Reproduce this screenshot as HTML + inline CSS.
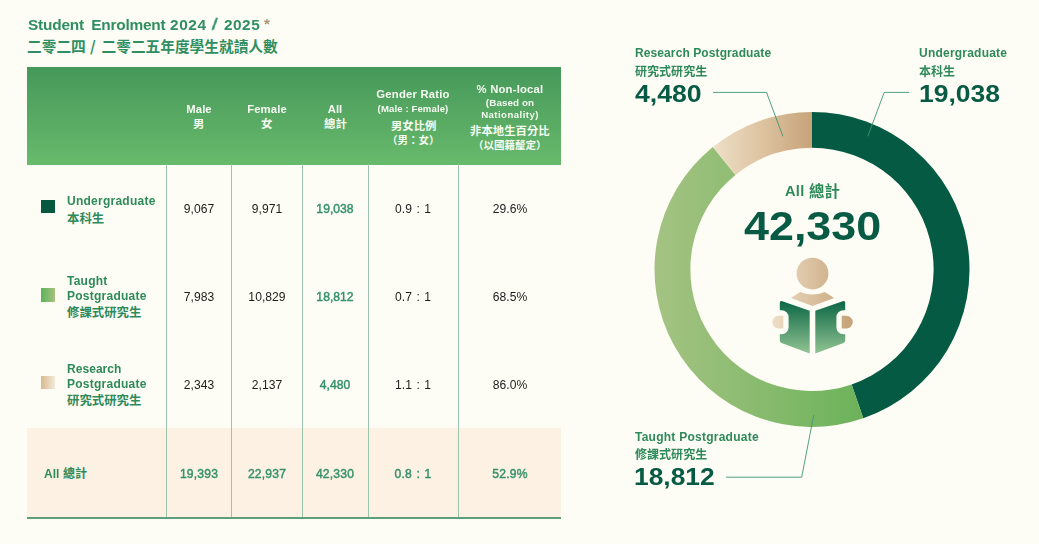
<!DOCTYPE html>
<html lang="en"><head><meta charset="utf-8"><title>Student Enrolment 2024 / 2025</title>
<style>
html,body{margin:0;padding:0}
body{width:1039px;height:544px;overflow:hidden;background:#FEFDF5;font-family:"Liberation Sans",sans-serif;position:relative}
.t{position:absolute;white-space:nowrap;will-change:transform}
.ttl{margin:0;font:inherit}
.zh{position:absolute;overflow:visible;display:block}
.zh text{font-family:"Liberation Sans","Noto Sans CJK TC",sans-serif;font-weight:700;font-size:1000px}
.chart{position:absolute;left:0;top:0}
.hdr{position:absolute;left:27px;top:67px;width:534px;height:97.5px;background:linear-gradient(180deg,#46985A 0%,#68BA6C 100%)}
.tot{position:absolute;left:27px;top:428px;width:534px;height:89px;background:#FDF1E4}
.bot{position:absolute;left:27px;top:517px;width:534px;height:2px;background:#5C9F7A}
.vl{position:absolute;top:164px;height:354px;width:1px;background:#9CC3AC}
.sq{position:absolute;left:41px;width:14px;height:13.4px}
.sq1{background:#06583F}
.sq2{background:linear-gradient(90deg,#5CB35B,#A9C180);height:13.8px}
.sq3{background:linear-gradient(90deg,#D8BA8E,#F3EADA)}
</style></head>
<body>
<h1 class="ttl">
<span class="t" style="top:16px;font-size:15.40px;line-height:17px;color:#2F8F62;font-weight:700;letter-spacing:-0.20px;left:27.60px;word-spacing:3.2px;">Student Enrolment</span>
<span class="t" style="top:16px;font-size:15.40px;line-height:17px;color:#2F8F62;font-weight:700;letter-spacing:0.62px;left:169.70px;">2024</span>
<span class="t" style="top:16px;font-size:15.40px;line-height:17px;color:#2F8F62;font-weight:700;left:210.80px;transform:skewX(-10deg);transform-origin:0 100%;-webkit-text-stroke:0.4px currentColor;">/</span>
<span class="t" style="top:16px;font-size:15.40px;line-height:17px;color:#2F8F62;font-weight:700;letter-spacing:0.50px;left:223.60px;">2025</span>
<span class="t" style="top:15px;font-size:15.00px;line-height:17px;color:#A8946F;font-weight:700;left:263.60px;">*</span>
</h1>
<svg class="zh" style="left:27.20px;top:38.76px" width="250.96" height="14.70" viewBox="0 -880 17072 1000" fill="#2F8F62"><text x="0" y="0">二零二四</text><text x="4286" y="0" style="font-family:'Noto Sans CJK TC','Liberation Sans',sans-serif">/</text><text x="5072" y="0">二零二五年度學生就讀人數</text></svg>
<section class="tbl" aria-label="Enrolment table">
<div class="hdr"></div>
<div class="tot"></div>
<i class="vl" style="left:166px"></i>
<i class="vl" style="left:231px"></i>
<i class="vl" style="left:302px"></i>
<i class="vl" style="left:368px"></i>
<i class="vl" style="left:458px"></i>
<div class="bot"></div>
<span class="t" style="top:103px;font-size:11.30px;line-height:12px;color:#F6FBF2;font-weight:700;letter-spacing:0.10px;left:198.70px;margin-left:0.05px;transform:translateX(-50%);">Male</span>
<svg class="zh" style="left:193.00px;top:118.37px" width="11.40" height="11.40" viewBox="0 -880 1000 1000" fill="#F6FBF2"><text x="0" y="0">男</text></svg>
<span class="t" style="top:103px;font-size:11.30px;line-height:12px;color:#F6FBF2;font-weight:700;letter-spacing:0.10px;left:266.90px;margin-left:0.05px;transform:translateX(-50%);">Female</span>
<svg class="zh" style="left:261.20px;top:118.37px" width="11.40" height="11.40" viewBox="0 -880 1000 1000" fill="#F6FBF2"><text x="0" y="0">女</text></svg>
<span class="t" style="top:103px;font-size:11.30px;line-height:12px;color:#F6FBF2;font-weight:700;letter-spacing:0.10px;left:335.30px;margin-left:0.05px;transform:translateX(-50%);">All</span>
<svg class="zh" style="left:323.90px;top:118.37px" width="22.80" height="11.40" viewBox="0 -880 2000 1000" fill="#F6FBF2"><text x="0" y="0">總計</text></svg>
<span class="t" style="top:88px;font-size:11.30px;line-height:12px;color:#F6FBF2;font-weight:700;letter-spacing:0.20px;left:413.20px;margin-left:0.10px;transform:translateX(-50%);">Gender Ratio</span>
<span class="t" style="top:103px;font-size:9.60px;line-height:11px;color:#F6FBF2;font-weight:700;letter-spacing:0.10px;left:413.20px;margin-left:0.05px;transform:translateX(-50%);">(Male : Female)</span>
<svg class="zh" style="left:390.50px;top:120.01px" width="45.40" height="11.35" viewBox="0 -880 4000 1000" fill="#F6FBF2"><text x="0" y="0">男女比例</text></svg>
<svg class="zh" style="left:386.95px;top:135.26px" width="52.50" height="10.50" viewBox="0 -880 5000 1000" fill="#F6FBF2"><text x="0" y="0">（男：女）</text></svg>
<span class="t" style="top:83px;font-size:11.30px;line-height:12px;color:#F6FBF2;font-weight:700;letter-spacing:0.20px;left:509.80px;margin-left:0.10px;transform:translateX(-50%);">% Non-local</span>
<span class="t" style="top:97px;font-size:9.80px;line-height:11px;color:#F6FBF2;font-weight:700;letter-spacing:0.10px;left:509.80px;margin-left:0.05px;transform:translateX(-50%);">(Based on</span>
<span class="t" style="top:109px;font-size:9.60px;line-height:11px;color:#F6FBF2;font-weight:700;letter-spacing:0.45px;left:509.80px;margin-left:0.23px;transform:translateX(-50%);">Nationality)</span>
<svg class="zh" style="left:469.90px;top:124.97px" width="79.80" height="11.40" viewBox="0 -880 7000 1000" fill="#F6FBF2"><text x="0" y="0">非本地生百分比</text></svg>
<svg class="zh" style="left:473.05px;top:139.86px" width="73.50" height="10.50" viewBox="0 -880 7000 1000" fill="#F6FBF2"><text x="0" y="0">（以國籍釐定）</text></svg>
<i class="sq sq1" style="top:200px"></i>
<span class="t" style="top:194px;font-size:12.00px;line-height:14px;color:#2E8A5A;font-weight:700;letter-spacing:0.25px;left:67.20px;">Undergraduate</span>
<svg class="zh" style="left:66.90px;top:212.09px" width="37.20" height="12.40" viewBox="0 -880 3000 1000" fill="#2E8A5A"><text x="0" y="0">本科生</text></svg>
<span class="t" style="top:202px;font-size:12.10px;line-height:14px;color:#1c1c1c;letter-spacing:0.05px;left:198.70px;margin-left:0.03px;transform:translateX(-50%);">9,067</span>
<span class="t" style="top:202px;font-size:12.10px;line-height:14px;color:#1c1c1c;letter-spacing:0.05px;left:266.90px;margin-left:0.03px;transform:translateX(-50%);">9,971</span>
<span class="t" style="top:202px;font-size:12.10px;line-height:14px;color:#35926A;letter-spacing:0.05px;left:335.30px;margin-left:0.03px;transform:translateX(-50%);-webkit-text-stroke:0.45px currentColor;">19,038</span>
<span class="t" style="top:202px;font-size:12.10px;line-height:14px;color:#1c1c1c;letter-spacing:0.05px;left:413.20px;margin-left:0.03px;transform:translateX(-50%);word-spacing:1px;">0.9 : 1</span>
<span class="t" style="top:202px;font-size:12.10px;line-height:14px;color:#1c1c1c;letter-spacing:0.05px;left:509.80px;margin-left:0.03px;transform:translateX(-50%);">29.6%</span>
<i class="sq sq2" style="top:288px"></i>
<span class="t" style="top:274px;font-size:12.00px;line-height:14px;color:#2E8A5A;font-weight:700;letter-spacing:0.25px;left:67.20px;">Taught</span>
<span class="t" style="top:289px;font-size:12.00px;line-height:14px;color:#2E8A5A;font-weight:700;letter-spacing:0.25px;left:67.20px;">Postgraduate</span>
<svg class="zh" style="left:66.90px;top:306.39px" width="74.40" height="12.40" viewBox="0 -880 6000 1000" fill="#2E8A5A"><text x="0" y="0">修課式研究生</text></svg>
<span class="t" style="top:290px;font-size:12.10px;line-height:14px;color:#1c1c1c;letter-spacing:0.05px;left:198.70px;margin-left:0.03px;transform:translateX(-50%);">7,983</span>
<span class="t" style="top:290px;font-size:12.10px;line-height:14px;color:#1c1c1c;letter-spacing:0.05px;left:266.90px;margin-left:0.03px;transform:translateX(-50%);">10,829</span>
<span class="t" style="top:290px;font-size:12.10px;line-height:14px;color:#35926A;letter-spacing:0.05px;left:335.30px;margin-left:0.03px;transform:translateX(-50%);-webkit-text-stroke:0.45px currentColor;">18,812</span>
<span class="t" style="top:290px;font-size:12.10px;line-height:14px;color:#1c1c1c;letter-spacing:0.05px;left:413.20px;margin-left:0.03px;transform:translateX(-50%);word-spacing:1px;">0.7 : 1</span>
<span class="t" style="top:290px;font-size:12.10px;line-height:14px;color:#1c1c1c;letter-spacing:0.05px;left:509.80px;margin-left:0.03px;transform:translateX(-50%);">68.5%</span>
<i class="sq sq3" style="top:376px"></i>
<span class="t" style="top:362px;font-size:12.00px;line-height:14px;color:#2E8A5A;font-weight:700;letter-spacing:0.05px;left:67.20px;">Research</span>
<span class="t" style="top:377px;font-size:12.00px;line-height:14px;color:#2E8A5A;font-weight:700;letter-spacing:0.25px;left:67.20px;">Postgraduate</span>
<svg class="zh" style="left:66.90px;top:394.09px" width="74.40" height="12.40" viewBox="0 -880 6000 1000" fill="#2E8A5A"><text x="0" y="0">研究式研究生</text></svg>
<span class="t" style="top:378px;font-size:12.10px;line-height:14px;color:#1c1c1c;letter-spacing:0.05px;left:198.70px;margin-left:0.03px;transform:translateX(-50%);">2,343</span>
<span class="t" style="top:378px;font-size:12.10px;line-height:14px;color:#1c1c1c;letter-spacing:0.05px;left:266.90px;margin-left:0.03px;transform:translateX(-50%);">2,137</span>
<span class="t" style="top:378px;font-size:12.10px;line-height:14px;color:#35926A;letter-spacing:0.05px;left:335.30px;margin-left:0.03px;transform:translateX(-50%);-webkit-text-stroke:0.45px currentColor;">4,480</span>
<span class="t" style="top:378px;font-size:12.10px;line-height:14px;color:#1c1c1c;letter-spacing:0.05px;left:413.20px;margin-left:0.03px;transform:translateX(-50%);word-spacing:1px;">1.1 : 1</span>
<span class="t" style="top:378px;font-size:12.10px;line-height:14px;color:#1c1c1c;letter-spacing:0.05px;left:509.80px;margin-left:0.03px;transform:translateX(-50%);">86.0%</span>
<span class="t" style="top:467px;font-size:12.00px;line-height:14px;color:#2E8A5A;font-weight:700;left:44.20px;">All</span>
<svg class="zh" style="left:62.90px;top:467.30px" width="24.10" height="12.05" viewBox="0 -880 2000 1000" fill="#2E8A5A"><text x="0" y="0">總計</text></svg>
<span class="t" style="top:467px;font-size:12.10px;line-height:14px;color:#35926A;letter-spacing:0.20px;left:198.70px;margin-left:0.10px;transform:translateX(-50%);-webkit-text-stroke:0.45px currentColor;">19,393</span>
<span class="t" style="top:467px;font-size:12.10px;line-height:14px;color:#35926A;letter-spacing:0.20px;left:266.90px;margin-left:0.10px;transform:translateX(-50%);-webkit-text-stroke:0.45px currentColor;">22,937</span>
<span class="t" style="top:467px;font-size:12.10px;line-height:14px;color:#35926A;letter-spacing:0.20px;left:335.30px;margin-left:0.10px;transform:translateX(-50%);-webkit-text-stroke:0.45px currentColor;">42,330</span>
<span class="t" style="top:467px;font-size:12.10px;line-height:14px;color:#35926A;letter-spacing:0.20px;left:413.20px;margin-left:0.10px;transform:translateX(-50%);-webkit-text-stroke:0.45px currentColor;word-spacing:1px;">0.8 : 1</span>
<span class="t" style="top:467px;font-size:12.10px;line-height:14px;color:#35926A;letter-spacing:0.20px;left:509.80px;margin-left:0.10px;transform:translateX(-50%);-webkit-text-stroke:0.45px currentColor;">52.9%</span>
</section>
<section class="fig" aria-label="Enrolment chart">
<svg class="chart" width="1039" height="544" viewBox="0 0 1039 544" role="img" aria-label="Donut chart of student enrolment by level"><defs><linearGradient id="gLg" gradientUnits="userSpaceOnUse" x1="654" y1="0" x2="866" y2="0"><stop offset="0" stop-color="#A5C383"/><stop offset="1" stop-color="#6BB259"/></linearGradient><linearGradient id="gTan" gradientUnits="userSpaceOnUse" x1="712" y1="0" x2="812" y2="0"><stop offset="0" stop-color="#EEE0C8"/><stop offset="0.5" stop-color="#DDC3A0"/><stop offset="1" stop-color="#C7A379"/></linearGradient><linearGradient id="gSkin" gradientUnits="userSpaceOnUse" x1="772" y1="0" x2="853" y2="0"><stop offset="0" stop-color="#EEDFC7"/><stop offset="1" stop-color="#C5A177"/></linearGradient><linearGradient id="gBook" gradientUnits="userSpaceOnUse" x1="0" y1="301" x2="0" y2="354"><stop offset="0" stop-color="#0B6645"/><stop offset="1" stop-color="#93C593"/></linearGradient></defs><path d="M812.00 111.90A157.5 157.5 0 0 1 863.28 418.32L851.59 384.38A121.6 121.6 0 0 0 812.00 147.80Z" fill="#055A43"/><path d="M863.28 418.32A157.5 157.5 0 0 1 712.88 147.00L735.47 174.90A121.6 121.6 0 0 0 851.59 384.38Z" fill="url(#gLg)"/><path d="M712.88 147.00A157.5 157.5 0 0 1 812.00 111.90L812.00 147.80A121.6 121.6 0 0 0 735.47 174.90Z" fill="url(#gTan)"/><g fill="none" stroke="#3D9672" stroke-width="0.9"><path d="M713 92.4H766.5L782.9 136.3"/><path d="M909.1 92.4H884.2L867.8 136.3"/><path d="M726.1 477.2H801.7L813.7 415.2"/></g><g fill="url(#gSkin)"><circle cx="812.5" cy="273.6" r="15.9"/><path d="M800.2 291.9Q812.5 297.3 824.8 291.9L834.2 297.9 812.5 305.9 790.8 297.9Z"/><path d="M783.3 315.8V328.4H778.5A6.3 6.3 0 0 1 778.5 315.8Z"/><path d="M841.7 315.8V328.4H846.5A6.3 6.3 0 0 0 846.5 315.8Z"/></g><g fill="url(#gBook)"><path d="M779.8 303Q779.8 300.4 782.3 301.3L809.7 310.7V353.4L781.5 342.9Q779.8 342.2 779.8 340.4V334.2H781.6A7 7 0 0 0 788.6 327.2V317.2A7 7 0 0 0 781.6 310.2H779.8Z"/><path d="M845.2 303Q845.2 300.4 842.7 301.3L815.3 310.7V353.4L843.5 342.9Q845.2 342.2 845.2 340.4V334.2H843.4A7 7 0 0 1 836.4 327.2V317.2A7 7 0 0 1 843.4 310.2H845.2Z"/></g></svg>
<span class="t" style="top:183px;font-size:14.60px;line-height:16px;color:#2E8A5A;font-weight:700;letter-spacing:0.30px;left:785.00px;">All</span>
<svg class="zh" style="left:808.90px;top:183.45px" width="30.80" height="15.40" viewBox="0 -880 2000 1000" fill="#2E8A5A"><text x="0" y="0">總計</text></svg>
<span class="t" style="top:203px;font-size:41.30px;line-height:46px;color:#075A43;font-weight:700;left:744.00px;transform-origin:0 50%;transform:scaleX(1.086);">42,330</span>
<span class="t" style="top:46px;font-size:12.00px;line-height:14px;color:#2E8A5A;font-weight:700;letter-spacing:0.10px;left:634.80px;">Research Postgraduate</span>
<svg class="zh" style="left:634.60px;top:64.50px" width="72.30" height="12.05" viewBox="0 -880 6000 1000" fill="#2E8A5A"><text x="0" y="0">研究式研究生</text></svg>
<span class="t" style="top:80px;font-size:24.10px;line-height:27px;color:#075A43;font-weight:700;left:635.00px;transform-origin:0 50%;transform:scaleX(1.106);">4,480</span>
<span class="t" style="top:46px;font-size:12.00px;line-height:14px;color:#2E8A5A;font-weight:700;letter-spacing:0.22px;left:918.90px;">Undergraduate</span>
<svg class="zh" style="left:918.70px;top:64.50px" width="36.15" height="12.05" viewBox="0 -880 3000 1000" fill="#2E8A5A"><text x="0" y="0">本科生</text></svg>
<span class="t" style="top:80px;font-size:24.10px;line-height:27px;color:#075A43;font-weight:700;left:919.10px;transform-origin:0 50%;transform:scaleX(1.100);">19,038</span>
<span class="t" style="top:430px;font-size:12.00px;line-height:14px;color:#2E8A5A;font-weight:700;letter-spacing:0.25px;left:635.30px;">Taught Postgraduate</span>
<svg class="zh" style="left:635.00px;top:448.20px" width="72.30" height="12.05" viewBox="0 -880 6000 1000" fill="#2E8A5A"><text x="0" y="0">修課式研究生</text></svg>
<span class="t" style="top:463px;font-size:24.10px;line-height:27px;color:#075A43;font-weight:700;left:634.40px;transform-origin:0 50%;transform:scaleX(1.095);">18,812</span>
</section>
</body></html>
